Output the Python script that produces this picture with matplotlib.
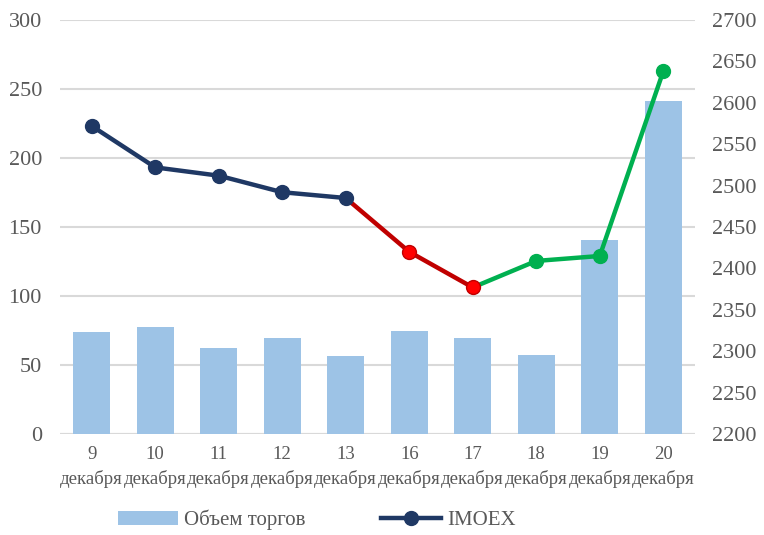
import matplotlib
matplotlib.use("Agg")
import matplotlib.pyplot as plt
from matplotlib.lines import Line2D
from matplotlib.patches import Patch

plt.rcParams['font.family'] = ['Liberation Serif', 'DejaVu Serif']

days = ["9", "10", "11", "12", "13", "16", "17", "18", "19", "20"]
month = "декабря"
volume = [73.6, 77.8, 62.3, 69.6, 56.8, 74.6, 69.6, 57.2, 140.6, 241.5]
imoex = [2572, 2522, 2512, 2492, 2485, 2420, 2377, 2409, 2415, 2638]

# segments of the index line: falling stretch, drop, rebound
seg_blue = (0, 4)
seg_red = (4, 6)
seg_green = (6, 9)

BAR = "#9DC3E6"
NAVY = "#1F3864"
RED_LINE = "#C00000"
RED_MARK = "#FF0000"
GREEN = "#00B050"
GRID = "#D9D9D9"
TXT = "#595959"

fig = plt.figure(figsize=(7.64, 5.35), dpi=100)
ax = fig.add_axes([0.0785, 0.1888, 0.8312, 0.7738])
ax2 = ax.twinx()

x = list(range(len(days)))
ax.bar(x, volume, width=0.58, color=BAR, zorder=2)
ax.set_ylim(0, 300)
ax.set_yticks(range(0, 301, 50))
ax.set_xlim(-0.5, len(days) - 0.5)
ax.set_xticks(x)
ax.set_xticklabels([f"{d}\n{month}" for d in days], fontsize=13.5, color=TXT,
                   linespacing=1.45)
ax.tick_params(axis='x', length=0, pad=9)
ax.tick_params(axis='y', length=0, labelsize=16, labelcolor=TXT, pad=13)
ax.grid(axis='y', color=GRID, linewidth=1.5, zorder=0)
ax.set_axisbelow(True)
for s in ax.spines.values():
    s.set_visible(False)
ax.axhline(0, color=GRID, linewidth=1.5, zorder=1)

ax2.set_ylim(2200, 2700)
ax2.set_yticks(range(2200, 2701, 50))
ax2.tick_params(axis='y', length=0, labelsize=16, labelcolor=TXT, pad=12)
for s in ax2.spines.values():
    s.set_visible(False)


def segment(a, b, line_color, zl):
    xs = x[a:b + 1]
    ys = imoex[a:b + 1]
    ax2.plot(xs, ys, color=line_color, linewidth=3.2, solid_capstyle='round',
             zorder=zl)


segment(*seg_green, GREEN, 3)
segment(*seg_red, RED_LINE, 4)
segment(*seg_blue, NAVY, 5)

mcolors = []
for i in x:
    if i <= seg_blue[1]:
        mcolors.append((NAVY, NAVY))
    elif i <= seg_red[1]:
        mcolors.append((RED_MARK, RED_LINE))
    else:
        mcolors.append((GREEN, GREEN))
for i, (fc, ec) in zip(x, mcolors):
    ax2.plot([i], [imoex[i]], marker='o', markersize=10, markerfacecolor=fc,
             markeredgecolor=ec, markeredgewidth=1, linestyle='none', zorder=6)

handles = [Patch(facecolor=BAR, edgecolor='none', label="Объем торгов"),
           Line2D([0], [0], color=NAVY, linewidth=3.2, marker='o', markersize=10,
                  label="IMOEX")]
fig.legend(handles=handles, loc='center', bbox_to_anchor=(0.415, 0.028), ncol=2,
           frameon=False, fontsize=15, handlelength=2.9, handleheight=0.7,
           columnspacing=3.6, handletextpad=0.3, labelcolor=TXT,
           borderpad=0, borderaxespad=0)

fig.savefig("out.png", dpi=100)
